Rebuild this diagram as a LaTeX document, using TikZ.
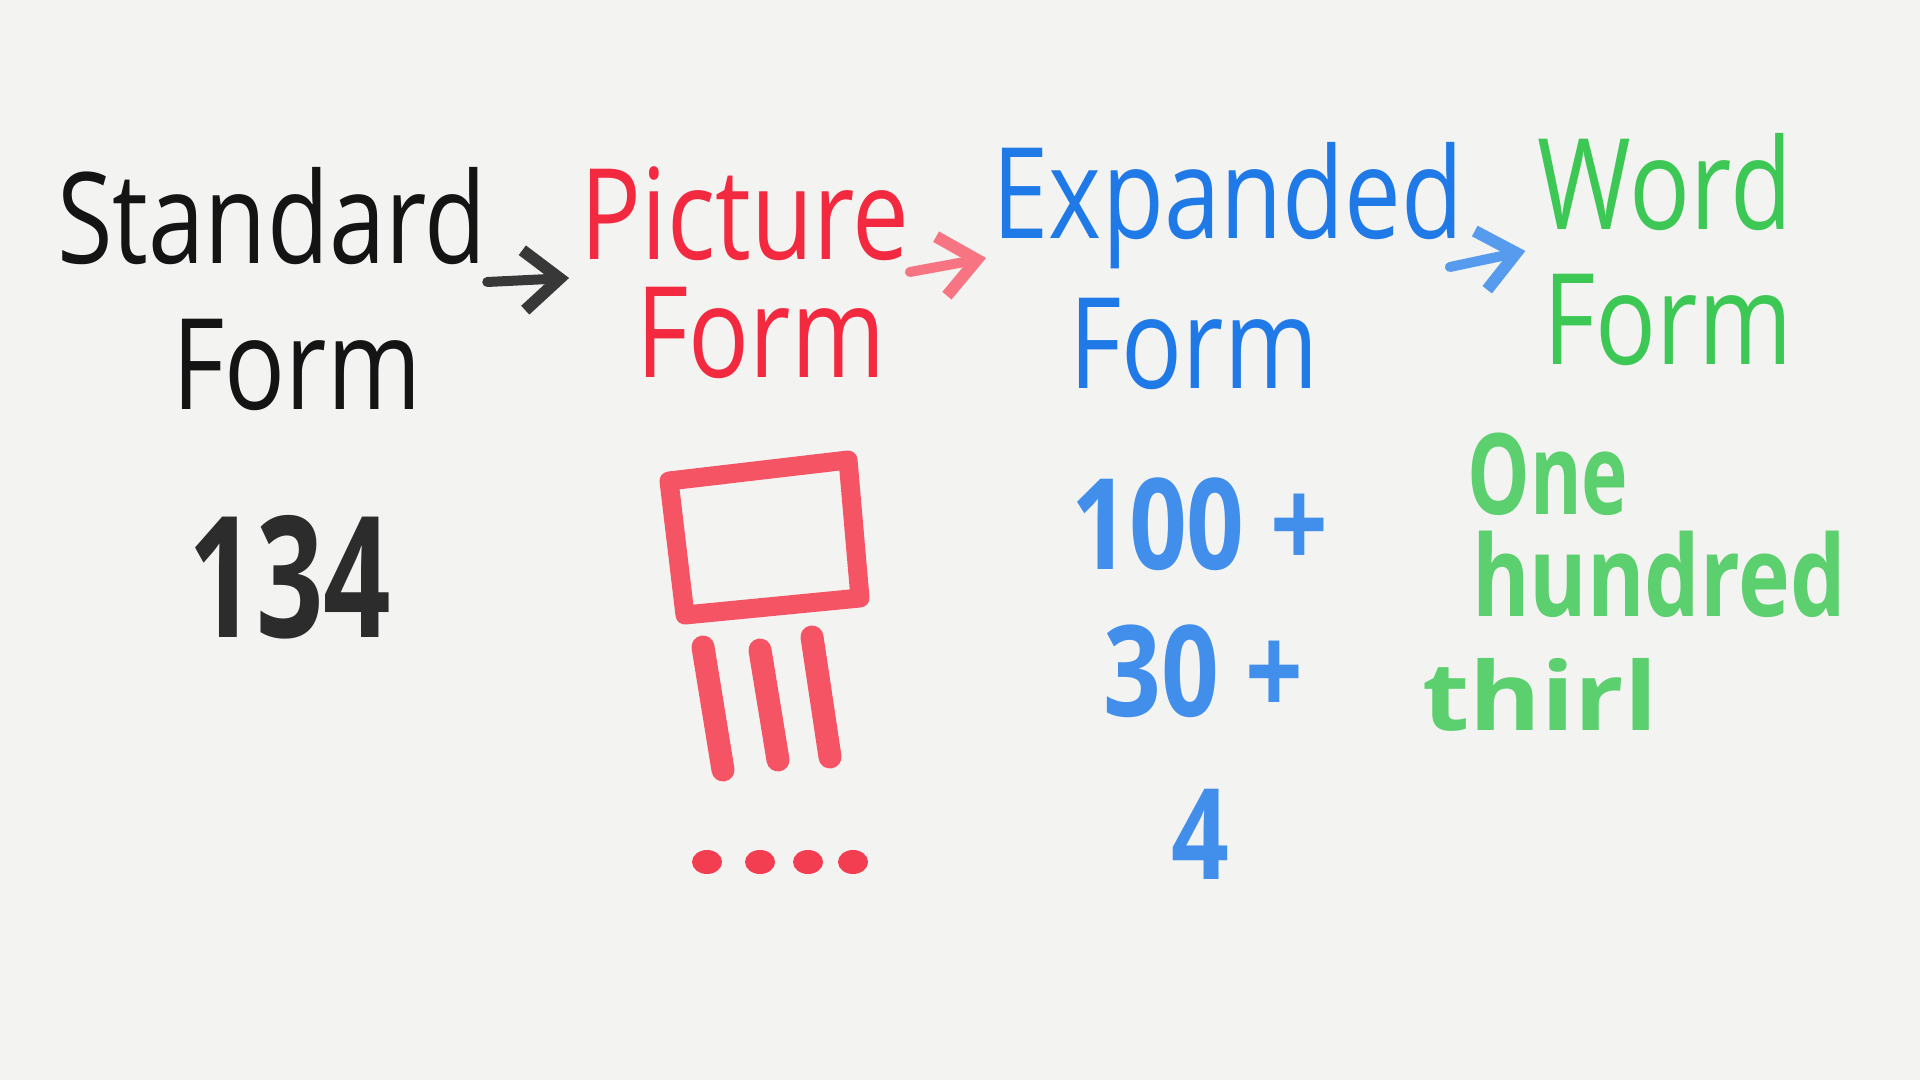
\documentclass[tikz,border=0pt]{standalone}
\usepackage{fontspec}
\setmainfont{Open Sans}
\usepackage{xcolor}
\usetikzlibrary{arrows.meta,positioning,calc}

\definecolor{board}{HTML}{F3F3F2}
\definecolor{inkblack}{HTML}{141414}
\definecolor{inkred}{HTML}{F2293F}
\definecolor{inkblue}{HTML}{1F7AE8}
\definecolor{inkgreen}{HTML}{3DC856}
\definecolor{softgreen}{HTML}{5CCF6E}

\begin{document}
\begin{tikzpicture}[
    title/.style={inner sep=0pt, anchor=base, font=\fontsize{36}{40}\selectfont, xscale=0.8},
    brush/.style={inner sep=0pt, anchor=base, font=\fontsize{36}{40}\selectfont\bfseries, xscale=0.8},
    wordtxt/.style={inner sep=0pt, anchor=base, font=\fontsize{32}{36}\selectfont\bfseries, text=softgreen, xscale=0.7},
    conn/.style={-{Straight Barb[length=3.6mm, width=6mm, line width=1.2mm]}, line width=1mm, line cap=round},
    redpen/.style={draw=inkred!80, line cap=round, line join=round}
]
% Board
\fill[board] (0,0) rectangle (19.2,-10.8);
\useasboundingbox (0,0) rectangle (19.2,-10.8);

% Headings (top row)
\node[title, text=inkblack] (std)   at (2.72,-2.64)  {Standard};
\node[title, text=inkblack] (stdf)  at (2.97,-4.10)  {Form};
\node[title, text=inkred]   (pic)   at (7.45,-2.60)  {Picture};
\node[title, text=inkred]   (picf)  at (7.61,-3.77)  {Form};
\node[title, text=inkblue]  (exp)   at (12.28,-2.39) {Expanded};
\node[title, text=inkblue]  (expf)  at (11.94,-3.89) {Form};
\node[title, text=inkgreen] (word)  at (16.65,-2.30) {Word};
\node[title, text=inkgreen] (wordf) at (16.68,-3.65) {Form};

% Arrows between headings
\draw[conn, draw=black!78] ([yshift=-0.18cm]std.base east) -- ([shift={(-0.11,-0.18)}]pic.base west);
\draw[conn, draw=inkred!65] ([yshift=-0.12cm]pic.base east) -- ([shift={(-0.06,-0.19)}]exp.base west);
\draw[conn, draw=inkblue!75] ([shift={(-0.14,-0.28)}]exp.base east) -- ([shift={(-0.12,-0.21)}]word.base west);

% Standard form
\node[brush, text=inkblack!90, font=\fontsize{48}{52}\selectfont\bfseries, xscale=0.7/0.8] (num) at (2.90,-6.37) {134};

% Picture form: one hundred, three tens, four ones
\draw[redpen, line width=1.9mm] (6.69,-4.81) -- (8.48,-4.60) -- (8.60,-5.98) -- (6.85,-6.15) -- cycle;
\foreach \xa/\ya/\xb/\yb in {7.03/-6.47/7.23/-7.70, 7.60/-6.50/7.78/-7.60, 8.12/-6.37/8.30/-7.57}
    \draw[redpen, line width=2.3mm] (\xa,\ya) -- (\xb,\yb);
\foreach \x in {7.07,7.60,8.08,8.53}
    \fill[inkred!90] (\x,-8.62) ellipse (0.15 and 0.12);

% Expanded form
\node[brush, text=inkblue!85] (hund) at (12.00,-5.69) {100 +};
\node[brush, text=inkblue!85] (tens) at (12.03,-7.16) {30 +};
\node[brush, text=inkblue!85] (ones) at (12.00,-8.79) {4};

% Word form
\node[wordtxt] (one)   at (15.48,-5.14) {One};
\node[wordtxt, xscale=0.78/0.7] (hnd) at (16.59,-6.16) {hundred};
\node[wordtxt, font=\fontsize{27}{30}\selectfont\bfseries, xscale=1.15/0.7] (thirl) at (15.40,-7.30) {thirl};
\end{tikzpicture}
\end{document}
